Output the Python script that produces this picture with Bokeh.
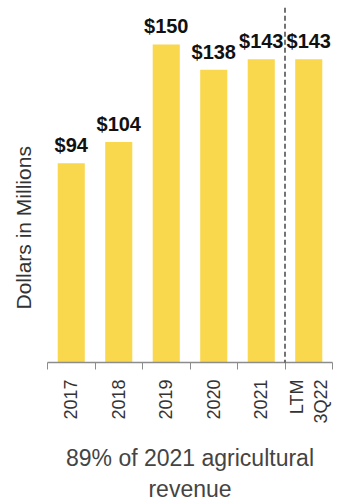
import numpy as np
from bokeh.plotting import figure
from bokeh.models import (ColumnDataSource, Range1d, LinearAxis, FixedTicker,
                          Arrow, Title)
from bokeh.core.properties import value
from bokeh.embed import file_html
from bokeh.resources import INLINE

categories = ["2017", "2018", "2019", "2020", "2021", "LTM\n3Q22"]
revenue = [94, 104, 150, 138, 143, 143]
value_labels = ["$94", "$104", "$150", "$138", "$143", "$143"]
y_title = "Dollars in Millions"
x_note = "89% of 2021 agricultural\nrevenue"

FONT = "Liberation Sans"
BAR = "#F9D84E"

xs = np.arange(len(categories)) + 0.5
src = ColumnDataSource(dict(x=xs, top=revenue, lab=value_labels))

p = figure(width=342, height=504, output_backend="svg", toolbar_location=None,
           x_range=Range1d(0, len(categories)), y_range=Range1d(0, 170.7),
           x_axis_type=None, y_axis_type=None,
           min_border_left=47, min_border_right=10, min_border_top=0,
           min_border_bottom=141)
p.outline_line_color = None
p.xgrid.visible = False
p.ygrid.visible = False
p.background_fill_color = "white"
p.border_fill_color = "white"

p.vbar(x="x", top="top", width=0.57, source=src, color=BAR, line_color=None)
p.text(x="x", y="top", text="lab", source=src, text_align="center",
       text_baseline="bottom", y_offset=-7,
       text_font=value(FONT), text_font_size="20px", text_font_style="bold",
       text_color="#111111")

xaxis = LinearAxis(ticker=FixedTicker(ticks=list(xs),
                                      minor_ticks=list(range(len(categories) + 1))))
xaxis.major_label_overrides = {float(x): c for x, c in zip(xs, categories)}
xaxis.major_tick_line_color = None
xaxis.minor_tick_line_color = "#8c8c8c"
xaxis.minor_tick_in = 0
xaxis.minor_tick_out = 7
xaxis.axis_line_color = "#8c8c8c"
xaxis.axis_line_width = 1.5
xaxis.major_label_orientation = np.pi / 2
xaxis.major_label_text_font = FONT
xaxis.major_label_text_font_size = "18px"
xaxis.major_label_text_color = "#333333"
xaxis.major_label_standoff = 10
xaxis.axis_label = x_note
xaxis.axis_label_text_font = FONT
xaxis.axis_label_text_font_size = "23px"
xaxis.axis_label_text_font_style = "normal"
xaxis.axis_label_text_color = "#444444"
xaxis.axis_label_standoff = 18
p.add_layout(xaxis, "below")

p.add_layout(Title(text=y_title, align="left", offset=53, standoff=21,
                   vertical_align="top",
                   text_font=FONT, text_font_size="21px",
                   text_font_style="normal", text_color="#333333"), "left")

p.add_layout(Arrow(end=None, x_start=5, x_end=5, y_start=-35, y_end=168.5,
                   line_color="#444444", line_width=1.5, line_dash="5 3"))

open("out.html", "w").write(file_html(p, INLINE))
